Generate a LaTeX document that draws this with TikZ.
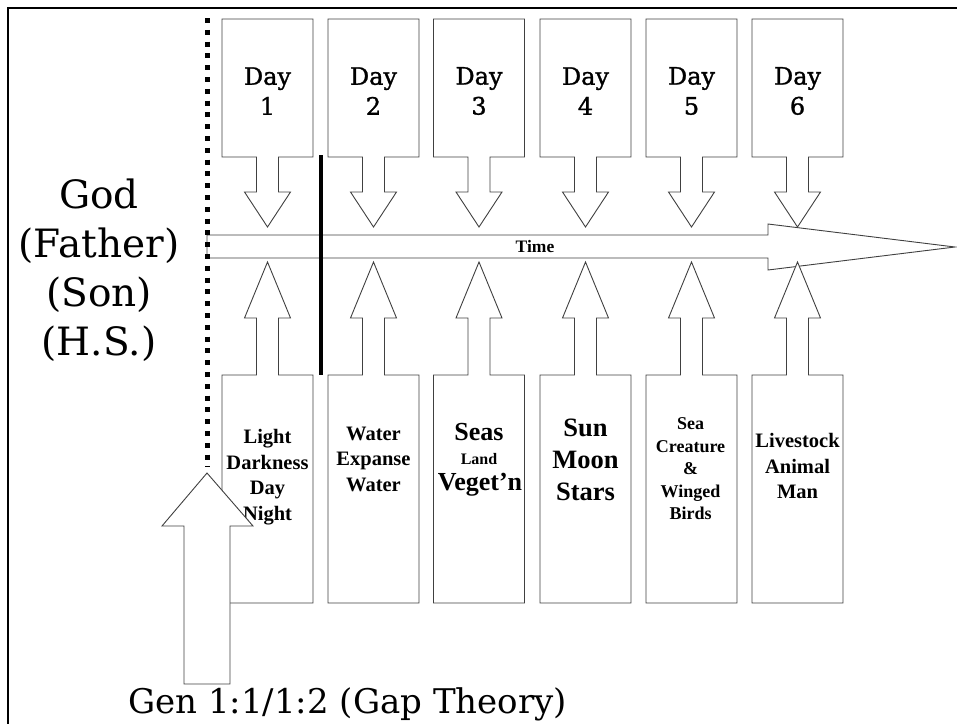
\documentclass[tikz,border=0pt]{standalone}
\usepackage{fontspec}
\setmainfont{Liberation Serif}
\newfontfamily\kfont{DejaVu Serif}
\newfontfamily\kfontb[FakeBold=1.2]{DejaVu Serif}
\tikzset{
  shapeline/.style={draw=black!75, line width=0.9pt, fill=white, line join=miter},
  daytext/.style={font=\kfontb\fontsize{24}{30}\selectfont, align=center, inner sep=0pt},
  itemtext/.style={font=\bfseries, align=center, inner sep=0pt},
  bigtext/.style={font=\kfont\fontsize{39}{49}\selectfont, align=center, inner sep=0pt},
  gentext/.style={font=\kfont\fontsize{34}{38}\selectfont, inner sep=0pt, anchor=base west},
}
\begin{document}
\begin{tikzpicture}[x=1pt,y=-1pt]
\useasboundingbox (0,0) rectangle (957,723);
% frame
\draw[line width=2.5pt] (8,740) -- (8,8) -- (970,8);

% time arrow
\coordinate (ttip) at (955,247);
\draw[shapeline] (207,235) -- (768,235) -- (768,224) -- (ttip) -- (768,270) -- (768,258) -- (207,258) -- cycle;
\node[font=\bfseries\fontsize{17.5}{17.5}\selectfont, inner sep=0pt] (time) at (535,247) {Time};

% top day callouts and bottom callouts
\foreach \i/\c in {1/267.5,2/373.5,3/479,4/585.5,5/691.5,6/797.5}{
  \draw[shapeline] (\c-45.5,19) -- (\c+45.5,19) -- (\c+45.5,157) -- (\c+11,157) -- (\c+11,192) -- (\c+23,192) -- (\c,227) -- (\c-23,192) -- (\c-11,192) -- (\c-11,157) -- (\c-45.5,157) -- cycle;
  \node[daytext] (day\i) at (\c,91) {Day\\\i};
  \draw[shapeline] (\c-45.5,603) -- (\c+45.5,603) -- (\c+45.5,375) -- (\c+11,375) -- (\c+11,318) -- (\c+23,318) -- (\c,262) -- (\c-23,318) -- (\c-11,318) -- (\c-11,375) -- (\c-45.5,375) -- cycle;
}

% bottom texts
\node[itemtext, font=\bfseries\fontsize{20.5}{25.5}\selectfont] (w1) at (267.5,477) {Light\\Darkness\\Day\\Night};
\node[itemtext, font=\bfseries\fontsize{20.5}{25.5}\selectfont] (w2) at (373.5,459) {Water\\Expanse\\Water};
\node[itemtext, font=\bfseries\fontsize{26}{26}\selectfont] (w3a) at (479,432) {Seas};
\node[itemtext, font=\bfseries\fontsize{16}{16}\selectfont] (w3b) at (479,459) {Land};
\node[itemtext, font=\bfseries\fontsize{26}{26}\selectfont] (w3c) at (480,485) {Veget’n};
\node[itemtext, font=\bfseries\fontsize{26.5}{32}\selectfont] (w4) at (585.5,460) {Sun\\Moon\\Stars};
\node[itemtext, font=\bfseries\fontsize{18}{22.5}\selectfont] (w5) at (690.5,469) {Sea\\Creature\\\&\\Winged\\Birds};
\node[itemtext, font=\bfseries\fontsize{20.5}{25.5}\selectfont] (w6) at (797.5,466) {Livestock\\Animal\\Man};

% divider
\coordinate (divtop) at (321,155);
\coordinate (divbot) at (321,375);
\draw[line width=4pt] (divtop) -- (divbot);

% gap arrow
\draw[shapeline] (184,684) -- (184,526) -- (162,526) -- (207,473) -- (253,526) -- (230,526) -- (230,684) -- cycle;
\coordinate (dtop) at (207.5,18);
\coordinate (dbot) at (207.5,467);
\draw[line width=5pt, dash pattern=on 5pt off 6.8pt] (dtop) -- (dbot);

% texts
\node[bigtext] (god) at (99,270) {God\\(Father)\\(Son)\\(H.S.)};
\node[gentext] (gen) at (128,713) {Gen 1:1/1:2 (Gap Theory)};
\end{tikzpicture}
\end{document}
